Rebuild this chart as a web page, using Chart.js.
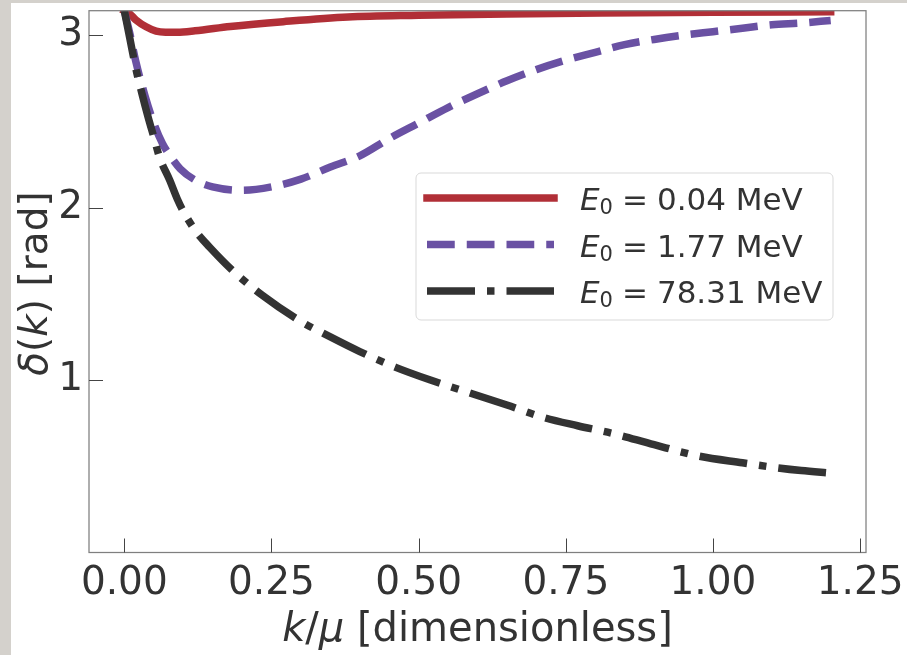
<!DOCTYPE html>
<html>
<head>
<meta charset="utf-8">
<script src="https://cdn.jsdelivr.net/npm/chart.js@4.4.1/dist/chart.umd.min.js"></script>
<style>
  body { margin: 0; background: #d4d1cc; width: 907px; height: 655px; overflow: hidden; }
  #quadro { position: absolute; left: 11px; top: 3px; width: 896px; height: 652px; background: #fff; }
  canvas { display: block; }
</style>
</head>
<body>
<div id="quadro"><canvas id="grafico" width="896" height="652"></canvas></div>
<script>
// Valores
const energias = ['0.04', '1.77', '78.31'];

const kVermelho = [0, 0.007, 0.02, 0.037, 0.054, 0.07, 0.09, 0.12, 0.18, 0.27, 0.38, 0.5, 0.65, 0.81, 1.0, 1.2];
const deltaVermelho = [3.1416, 3.13, 3.087, 3.048, 3.023, 3.017, 3.017, 3.025, 3.05, 3.078, 3.105, 3.115, 3.123, 3.128, 3.132, 3.135];

const kRoxo = [0, 0.01, 0.02, 0.035, 0.05, 0.065, 0.08, 0.095, 0.12, 0.15, 0.2, 0.25, 0.3, 0.35, 0.4, 0.45, 0.5, 0.55, 0.6, 0.65, 0.7, 0.75, 0.8, 0.85, 0.9, 0.95, 1.0, 1.05, 1.1, 1.15, 1.2];
const deltaRoxo = [3.1416, 3.0, 2.84, 2.65, 2.49, 2.37, 2.29, 2.225, 2.16, 2.12, 2.10, 2.12, 2.165, 2.235, 2.30, 2.40, 2.49, 2.58, 2.66, 2.735, 2.80, 2.855, 2.90, 2.945, 2.975, 3.0, 3.02, 3.04, 3.06, 3.07, 3.085];

const kPreto = [0, 0.01, 0.02, 0.03, 0.04, 0.05, 0.06, 0.077, 0.09, 0.1, 0.122, 0.145, 0.184, 0.235, 0.3, 0.35, 0.4, 0.46, 0.52, 0.587, 0.65, 0.71, 0.77, 0.83, 0.9, 0.975, 1.05, 1.1, 1.15, 1.2];
const deltaPreto = [3.1416, 2.97, 2.80, 2.66, 2.53, 2.41, 2.29, 2.16, 2.05, 1.98, 1.86, 1.77, 1.635, 1.49, 1.34, 1.25, 1.165, 1.075, 1.0, 0.925, 0.855, 0.785, 0.735, 0.69, 0.625, 0.56, 0.52, 0.495, 0.475, 0.46];

const ticksX = [0, 0.25, 0.5, 0.75, 1.0, 1.25];
const ticksY = [1, 2, 3];

const corTexto = '#333333';
const fonte = '"DejaVu Sans"';

function pontos(ks, ds) {
  return ks.map((k, i) => ({ x: k, y: ds[i] }));
}

// Texto com trechos em itálico (estilo mathtext)
function larguraTrechos(ctx, trechos, tam) {
  let w = 0;
  trechos.forEach(t => {
    ctx.font = (t.it ? 'italic ' : '') + tam + 'px ' + fonte;
    w += ctx.measureText(t.t).width;
  });
  return w;
}

function desenharTrechos(ctx, trechos, x, y, tam) {
  trechos.forEach(t => {
    ctx.font = (t.it ? 'italic ' : '') + tam + 'px ' + fonte;
    ctx.fillText(t.t, x, y);
    x += ctx.measureText(t.t).width;
  });
}

function desenharRotulo(ctx, x, y, valor) {
  ctx.fillStyle = corTexto;
  ctx.textAlign = 'left';
  ctx.textBaseline = 'alphabetic';
  ctx.font = 'italic 31px ' + fonte;
  ctx.fillText('E', x, y);
  x += ctx.measureText('E').width;
  ctx.font = '21px ' + fonte;
  ctx.fillText('0', x, y + 4);
  x += ctx.measureText('0').width + 9;
  ctx.font = '31px ' + fonte;
  ctx.fillText('=', x, y);
  x += ctx.measureText('=').width + 9;
  ctx.fillText(valor + ' MeV', x, y);
}

const molduraPlugin = {
  id: 'moldura',
  afterDatasetsDraw(chart) {
    const { ctx, chartArea: a, scales } = chart;
    ctx.save();
    ctx.strokeStyle = '#7f7f7f';
    ctx.lineWidth = 1.25;
    ctx.strokeRect(a.left, a.top, a.right - a.left, a.bottom - a.top);

    // ticks para dentro
    ctx.strokeStyle = '#444';
    ctx.lineWidth = 1;
    ctx.beginPath();
    ticksX.forEach(v => {
      const px = Math.round(scales.x.getPixelForValue(v)) + 0.5;
      ctx.moveTo(px, a.bottom);
      ctx.lineTo(px, a.bottom - 14);
    });
    ticksY.forEach(v => {
      const py = Math.round(scales.y.getPixelForValue(v)) + 0.5;
      ctx.moveTo(a.left, py);
      ctx.lineTo(a.left + 14, py);
    });
    ctx.stroke();

    // títulos dos eixos
    ctx.fillStyle = corTexto;
    ctx.textAlign = 'left';
    ctx.textBaseline = 'alphabetic';
    const tituloX = [{ t: 'k', it: true }, { t: '/' }, { t: 'μ', it: true }, { t: ' [dimensionless]' }];
    const wx = larguraTrechos(ctx, tituloX, 40);
    desenharTrechos(ctx, tituloX, (a.left + a.right) / 2 - wx / 2, 638, 40);

    const tituloY = [{ t: 'δ', it: true }, { t: '(' }, { t: 'k', it: true }, { t: ')' }, { t: ' [rad]' }];
    const wy = larguraTrechos(ctx, tituloY, 39);
    ctx.translate(36, (a.top + a.bottom) / 2 + 2);
    ctx.rotate(-Math.PI / 2);
    desenharTrechos(ctx, tituloY, -wy / 2, 0, 39);
    ctx.restore();
  }
};

const legendaPlugin = {
  id: 'legendaCaixa',
  afterDraw(chart) {
    const ctx = chart.ctx;
    ctx.save();
    ctx.beginPath();
    ctx.roundRect(405, 170, 417, 147, 5);
    ctx.fillStyle = 'rgba(255,255,255,0.8)';
    ctx.fill();
    ctx.strokeStyle = '#d9d9d9';
    ctx.lineWidth = 1;
    ctx.stroke();
    chart.data.datasets.forEach((ds, i) => {
      const y = 195 + i * 46.5;
      ctx.beginPath();
      ctx.setLineDash(ds.borderDash || []);
      ctx.lineDashOffset = 0;
      ctx.lineCap = ds.borderCapStyle || 'butt';
      ctx.strokeStyle = ds.borderColor;
      ctx.lineWidth = ds.borderWidth;
      ctx.moveTo(416, y);
      ctx.lineTo(543, y);
      ctx.stroke();
      ctx.setLineDash([]);
      desenharRotulo(ctx, 569, y + 12, energias[i]);
    });
    ctx.restore();
  }
};

function semPadding(s) {
  s.paddingLeft = 0; s.paddingRight = 0; s.paddingTop = 0; s.paddingBottom = 0;
}

new Chart(document.getElementById('grafico'), {
  type: 'line',
  data: {
    datasets: [
      {
        label: 'E0 = ' + energias[0] + ' MeV',
        data: pontos(kVermelho, deltaVermelho),
        borderColor: '#b12f37',
        borderWidth: 7.5,
        borderCapStyle: 'square',
        order: 3
      },
      {
        label: 'E0 = ' + energias[1] + ' MeV',
        data: pontos(kRoxo, deltaRoxo),
        borderColor: '#6a51a3',
        borderWidth: 7.5,
        borderDash: [27.75, 12],
        order: 2
      },
      {
        label: 'E0 = ' + energias[2] + ' MeV',
        data: pontos(kPreto, deltaPreto),
        borderColor: '#333333',
        borderWidth: 7.5,
        borderDash: [48, 12, 7.5, 12],
        order: 1
      }
    ]
  },
  options: {
    responsive: false,
    animation: false,
    parsing: false,
    datasets: {
      line: {
        pointRadius: 0,
        cubicInterpolationMode: 'monotone',
        borderJoinStyle: 'round',
        clip: 0,
        fill: false
      }
    },
    layout: { padding: { left: 0, top: 7.7, right: 41, bottom: 0 } },
    plugins: { legend: { display: false }, tooltip: { enabled: false } },
    scales: {
      x: {
        type: 'linear',
        min: -0.06,
        max: 1.26,
        grid: { display: false, drawTicks: false },
        border: { display: false },
        ticks: {
          padding: 12,
          color: corTexto,
          font: { family: 'DejaVu Sans', size: 39, lineHeight: 1 },
          maxRotation: 0,
          autoSkip: false,
          callback: v => Number(v).toFixed(2)
        },
        afterBuildTicks: s => { s.ticks = ticksX.map(v => ({ value: v })); },
        afterFit: s => { s.height = 102.5; semPadding(s); }
      },
      y: {
        type: 'linear',
        min: 0,
        max: Math.PI,
        grid: { display: false, drawTicks: false },
        border: { display: false },
        ticks: {
          padding: 6,
          color: corTexto,
          font: { family: 'DejaVu Sans', size: 39, lineHeight: 1 },
          autoSkip: false,
          callback: v => String(v)
        },
        afterBuildTicks: s => { s.ticks = ticksY.map(v => ({ value: v })); },
        afterFit: s => { s.width = 78; semPadding(s); }
      }
    }
  },
  plugins: [molduraPlugin, legendaPlugin]
});
</script>
</body>
</html>
